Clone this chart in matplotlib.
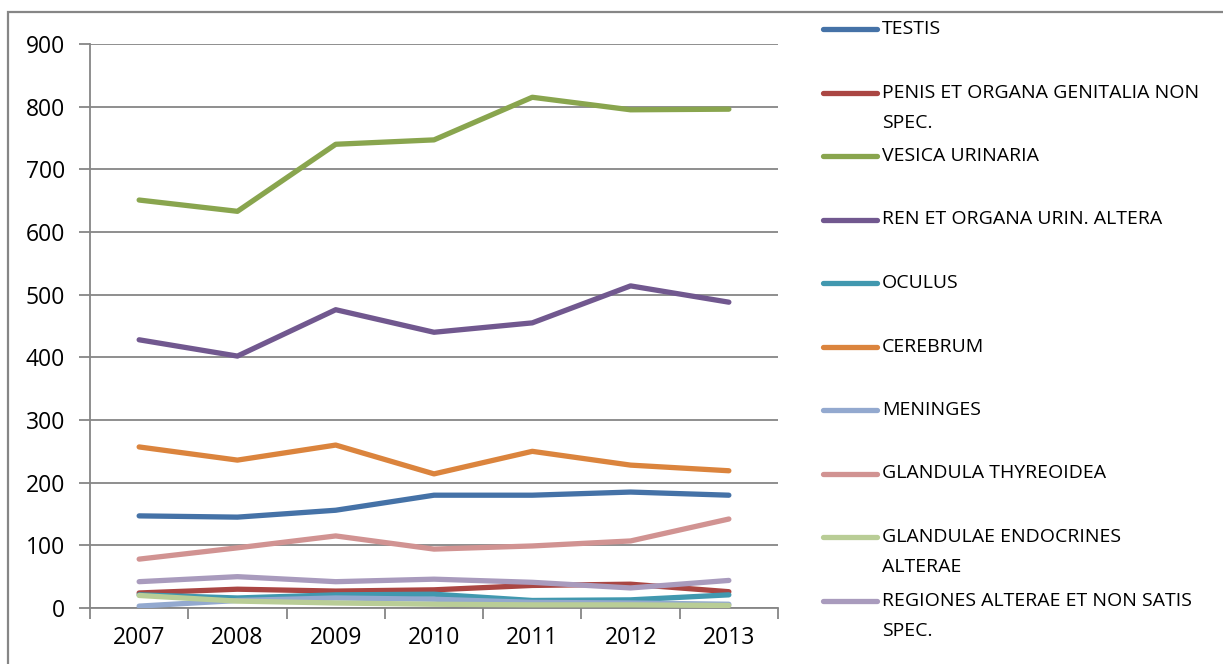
import matplotlib.pyplot as plt
from matplotlib.lines import Line2D
from matplotlib.patches import Rectangle

plt.rcParams['font.family'] = ['Open Sans', 'DejaVu Sans']

years = ['2007', '2008', '2009', '2010', '2011', '2012', '2013']

series = [
    ('TESTIS', [147, 145, 156, 180, 180, 185, 180], '#4572A7'),
    ('PENIS ET ORGANA GENITALIA NON\nSPEC.', [24, 30, 27, 29, 36, 38, 26], '#AA4643'),
    ('VESICA URINARIA', [651, 633, 740, 747, 815, 795, 796], '#89A54E'),
    ('REN ET ORGANA URIN. ALTERA', [428, 402, 476, 440, 455, 514, 488], '#71588F'),
    ('OCULUS', [21, 16, 21, 22, 12, 13, 21], '#4198AF'),
    ('CEREBRUM', [257, 236, 260, 214, 250, 228, 219], '#DB843D'),
    ('MENINGES', [3, 12, 16, 14, 9, 8, 6], '#93A9CF'),
    ('GLANDULA THYREOIDEA', [78, 96, 115, 94, 99, 107, 142], '#D19392'),
    ('GLANDULAE ENDOCRINES\nALTERAE', [20, 11, 8, 6, 5, 5, 4], '#B9CD96'),
    ('REGIONES ALTERAE ET NON SATIS\nSPEC.', [42, 50, 42, 46, 41, 32, 44], '#A99BBD'),
]

W, H = 1223, 664
fig = plt.figure(figsize=(W / 100, H / 100), dpi=100)
ax = fig.add_axes([90 / W, 1 - 608 / H, (778 - 90) / W, (608 - 44) / H])

x = range(len(years))
for name, vals, col in series:
    ax.plot(x, vals, color=col, lw=3.8, solid_capstyle='round', zorder=3)

grey = '#868686'
ax.set_xlim(-0.5, len(years) - 0.5)
ax.set_ylim(0, 900)
ax.set_yticks(range(0, 901, 100))
ax.set_xticks(list(x))
ax.set_xticklabels(years)
ax.set_xticks([i - 0.5 for i in range(len(years) + 1)], minor=True)
ax.tick_params(axis='x', which='major', length=0, pad=13, labelsize=16.5)
ax.tick_params(axis='x', which='minor', length=8, width=1.3, color=grey, direction='out')
ax.tick_params(axis='y', length=8, width=1.3, color=grey, labelsize=16.5, pad=10)
ax.grid(axis='y', color=grey, lw=1.3, zorder=0)
for s in ['top', 'right']:
    ax.spines[s].set_visible(False)
for s in ['left', 'bottom']:
    ax.spines[s].set_color(grey)
    ax.spines[s].set_linewidth(1.3)

# outer chart frame
fig.add_artist(Rectangle((8 / W, -0.1), 1.2, 1 - 12 / H + 0.1, transform=fig.transFigure,
                         fill=False, ec=grey, lw=1.6))

# legend
y0, step = 29, 63.5
for i, (name, vals, col) in enumerate(series):
    yp = y0 + i * step
    fig.add_artist(Line2D([823 / W, 877 / W], [1 - yp / H] * 2, color=col, lw=3.8,
                          solid_capstyle='round', transform=fig.transFigure))
    for j, line in enumerate(name.split('\n')):
        fig.text(882 / W, 1 - (yp + j * 30) / H, line, fontsize=14, va='center', ha='left')

fig.savefig('out.png', dpi=100)
